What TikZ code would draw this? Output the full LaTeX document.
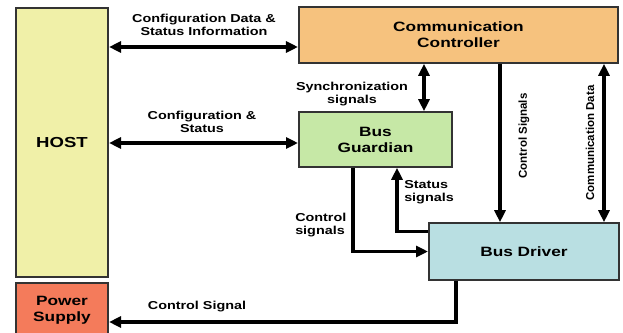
\documentclass[tikz,border=0pt]{standalone}
\usepackage{fontspec}
\setmainfont{Liberation Sans}
\usetikzlibrary{arrows.meta}
\definecolor{hostyellow}{HTML}{F0F0A8}
\definecolor{ccorange}{HTML}{F6C27E}
\definecolor{bggreen}{HTML}{C6E8A6}
\definecolor{bdblue}{HTML}{B9DFE2}
\definecolor{psred}{HTML}{F47B5B}
\definecolor{edgegray}{HTML}{333333}
\begin{document}
\begin{tikzpicture}[
    x=1pt, y=-1pt,
    % text is set a little wide, so sizes are given before the stretch
    block/.style={rectangle, draw=edgegray, line width=1.6pt, align=center, xscale=1.28,
      font=\bfseries\fontsize{13.5}{16}\selectfont, inner sep=0pt},
    link/.style={line width=3.2pt, -{Triangle[length=12pt,width=11pt]}},
    duplex/.style={line width=3.2pt, {Triangle[length=12pt,width=11pt]}-{Triangle[length=12pt,width=11pt]}},
    tag/.style={font=\bfseries\fontsize{11.5}{13}\selectfont, inner sep=0pt, xscale=1.25},
    sidetag/.style={font=\bfseries\fontsize{11.5}{13}\selectfont, inner sep=0pt, rotate=90}
  ]
  \useasboundingbox (0,0) rectangle (623,332);
  \clip (0,0) rectangle (623,332);

  %Nodes
  \node[block, fill=hostyellow, minimum width=71.9pt, minimum height=269pt] at (62,142.5) (host) {\fontsize{14.5}{17}\selectfont HOST};
  \node[block, fill=psred, minimum width=71.9pt, minimum height=54pt] at (62,310) (power) {Power\\Supply};
  \node[block, fill=ccorange, minimum width=249.2pt, minimum height=56pt] at (458.5,35) (cc) {Communication\\Controller};
  \node[block, fill=bggreen, minimum width=119.5pt, minimum height=55pt] at (375.5,139.5) (bg) {Bus\\Guardian};
  \node[block, fill=bdblue, minimum width=148.4pt, minimum height=57pt] at (524,251.5) (bd) {Bus Driver};

  %Lines
  \draw[duplex] ([yshift=-12pt]cc.west -| host.east) -- ([yshift=-12pt]cc.west);
  \draw[duplex] ([yshift=-3.5pt]bg.west -| host.east) -- ([yshift=-3.5pt]bg.west);
  \draw[duplex] ([xshift=48.5pt]bg.north |- cc.south) -- ([xshift=48.5pt]bg.north);
  \draw[link] ([xshift=-24pt]bd.north |- cc.south) -- ([xshift=-24pt]bd.north);
  \draw[duplex] ([xshift=80pt]bd.north |- cc.south) -- ([xshift=80pt]bd.north);
  \draw[link] ([xshift=-22.5pt]bg.south) |- (bd.west);
  \draw[link] ([yshift=20pt]bd.west) -| ([xshift=21.5pt]bg.south);
  \draw[link] ([xshift=-68pt]bd.south) |- ([yshift=-12pt]power.east);

  %Labels
  \node[tag, align=center] at (204,25) (cfgdata) {Configuration Data \&\\Status Information};
  \node[tag, align=center] at (202,122) (cfgstat) {Configuration \&\\Status};
  \node[tag, align=center] at (352,94.5) (sync) {Synchronization\\signals};
  \node[sidetag] at (524,136) (ctrlsig) {Control Signals};
  \node[sidetag] at (590,143) (commdata) {Communication Data};
  \node[tag, align=left, anchor=west] at (295,225) (ctrlbg) {Control\\signals};
  \node[tag, align=left, anchor=west] at (404,192) (status) {Status\\signals};
  \node[tag] at (197,307) (ctrlps) {Control Signal};
\end{tikzpicture}
\end{document}
